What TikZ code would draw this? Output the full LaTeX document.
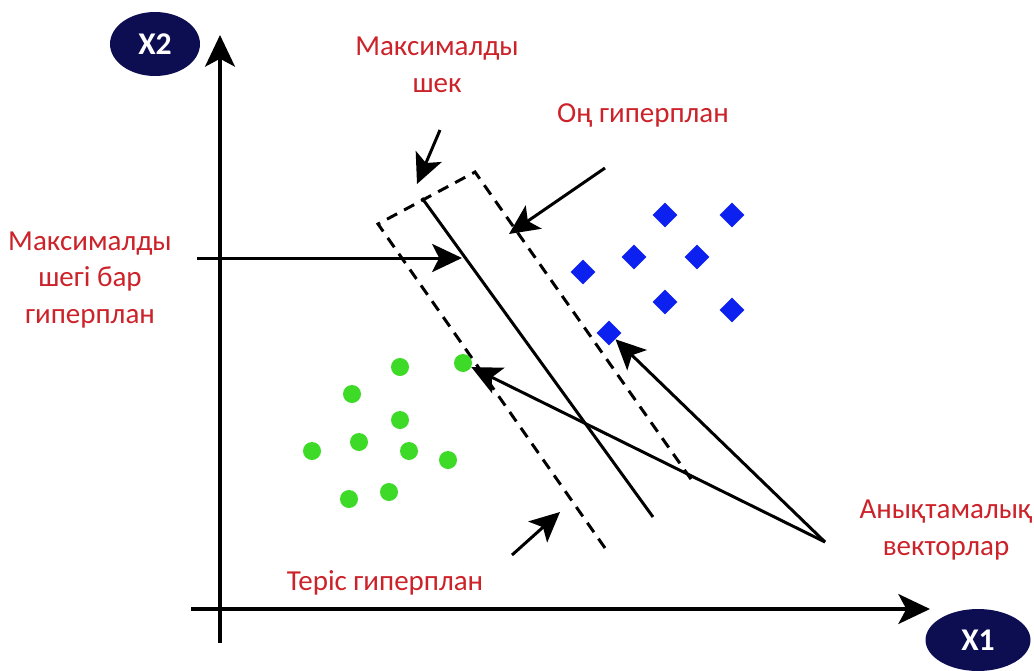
\documentclass[tikz,border=0pt]{standalone}
\usepackage{fontspec}
\setmainfont{Carlito}
\usepackage{xcolor}
\usetikzlibrary{arrows.meta, positioning, shapes.geometric}
\definecolor{AxisNavy}{RGB}{13,13,82}
\definecolor{LabelRed}{RGB}{204,34,41}
\definecolor{ClassBlue}{RGB}{12,32,240}
\definecolor{ClassGreen}{RGB}{62,218,40}

\begin{document}
\begin{tikzpicture}[x=0.02cm, y=-0.02cm,
  lbl/.style={text=LabelRed, font=\fontsize{16.5}{21}\selectfont, align=center},
  axname/.style={ellipse, fill=AxisNavy, text=white, inner sep=0pt,
                 font=\fontsize{18}{20}\selectfont\bfseries},
  axisline/.style={line width=2pt, -{Stealth[length=18pt,width=17pt,inset=4.5pt]}},
  arr/.style={line width=1.7pt, -{Stealth[length=17pt,width=16pt,inset=4pt]}},
  plane/.style={line width=1.7pt},
  marginline/.style={line width=1.7pt, dash pattern=on 6.5pt off 4.5pt},
  bdiam/.style={diamond, fill=ClassBlue, inner sep=0pt, minimum size=0.5cm},
  gdot/.style={circle, fill=ClassGreen, inner sep=0pt, minimum size=0.36cm},
]
\useasboundingbox (0,0) rectangle (1034,670);

% axes
\coordinate (ybot) at (220,643);
\coordinate (ytop) at (220,35);
\coordinate (xleft) at (191,609);
\coordinate (xright) at (930,609);
\draw[axisline] (ybot) -- (ytop);
\draw[axisline] (xleft) -- (xright);
\node[axname, minimum width=1.8cm, minimum height=1.28cm] (x2) at (155,44) {X2};
\node[axname, minimum width=2.1cm, minimum height=1.24cm] (x1) at (978,640) {X1};

% margin and hyperplane
\coordinate (nbot) at (605,548);
\coordinate (ntop) at (378,224);
\coordinate (ptop) at (475,172);
\coordinate (pbot) at (693,482);
\coordinate (htop) at (422,198);
\coordinate (hbot) at (653,517);
\draw[marginline] (nbot) -- (ntop) -- (ptop) -- (pbot);
\draw[plane] (htop) -- (hbot);

% blue class
\node[bdiam] (b1) at (665,215) {};
\node[bdiam] (b2) at (732,215) {};
\node[bdiam] (b3) at (634,257) {};
\node[bdiam] (b4) at (697,257) {};
\node[bdiam] (b5) at (583,272) {};
\node[bdiam] (b6) at (665,302) {};
\node[bdiam] (b7) at (732,310) {};
\node[bdiam] (b8) at (609,333) {};

% green class
\node[gdot] (g1) at (400,367) {};
\node[gdot] (g2) at (463,363) {};
\node[gdot] (g3) at (352,394) {};
\node[gdot] (g4) at (400,420) {};
\node[gdot] (g5) at (359,442) {};
\node[gdot] (g6) at (312,451) {};
\node[gdot] (g7) at (409,451) {};
\node[gdot] (g8) at (448,460) {};
\node[gdot] (g9) at (349,499) {};
\node[gdot] (g10) at (389,492) {};

% labels
\node[lbl] (marg) at (437,65) {Максималды\\шек};
\node[lbl] (posl) at (643,115) {Оң гиперплан};
\node[lbl] (hypl) at (90,280) {Максималды\\шегі бар\\гиперплан};
\node[lbl] (negl) at (385,583) {Теріс гиперплан};
\node[lbl] (svl) at (946,530) {Анықтамалық\\векторлар};

% pointers
\coordinate (margs) at (440,130);
\coordinate (marge) at (417,184);
\coordinate (poss) at (605,168);
\coordinate (pose) at (509,234);
\coordinate (hyps) at (197,258);
\coordinate (hype) at (462,258);
\coordinate (negs) at (512,555);
\coordinate (nege) at (560,512);
\coordinate (svs) at (825,542);
\draw[arr] (margs) -- (marge);
\draw[arr] (poss) -- (pose);
\draw[arr] (hyps) -- (hype);
\draw[arr] (negs) -- (nege);
\draw[arr] (svs) -- (g2);
\draw[arr] (svs) -- (b8);
\end{tikzpicture}
\end{document}
